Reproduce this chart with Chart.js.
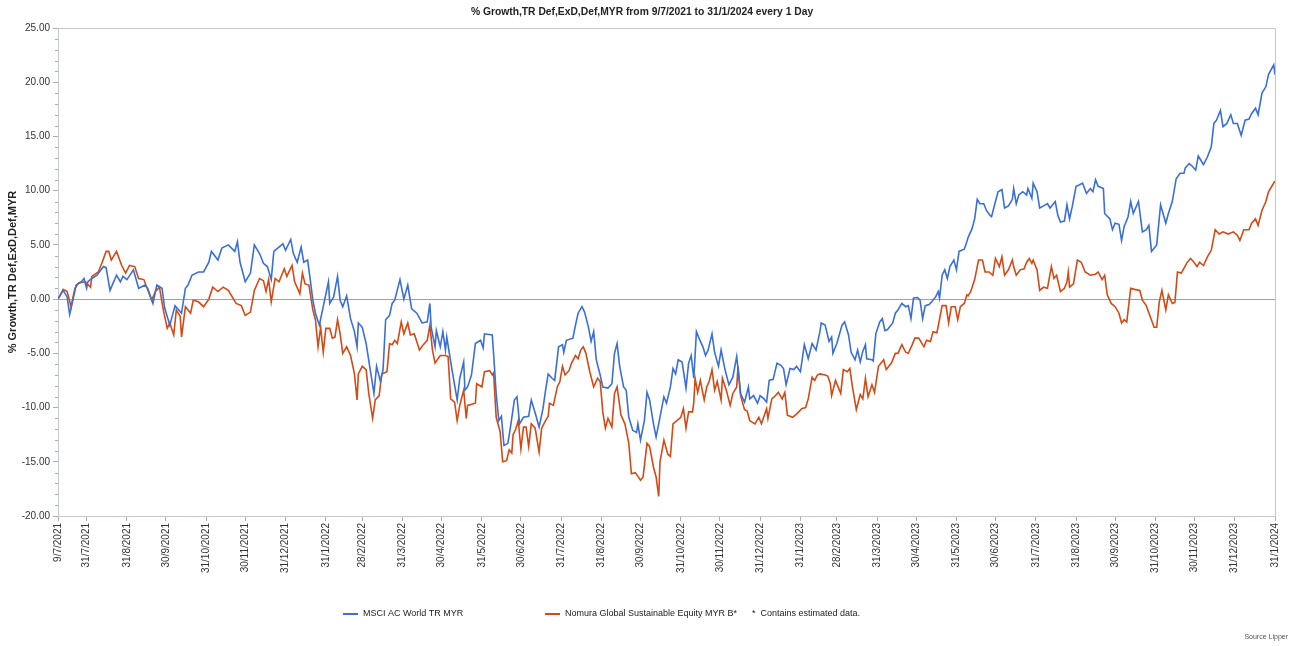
<!DOCTYPE html>
<html>
<head>
<meta charset="utf-8">
<title>% Growth chart</title>
<script src="https://cdn.jsdelivr.net/npm/chart.js@4.4.1/dist/chart.umd.min.js"></script>
<style>
  html, body { margin: 0; padding: 0; background: #fff; }
  #wrap { width: 1296px; height: 646px; }
</style>
</head>
<body>
<div id="wrap"><canvas id="myChart" width="1296" height="646"></canvas></div>
<script>
"use strict";

// days counted from 9/7/2021
const tickDays = [0, 22, 53, 83, 114, 144, 175, 206, 234, 265, 295, 326, 356, 387, 418, 448,
  479, 509, 540, 571, 599, 630, 660, 691, 721, 752, 783, 813, 844, 874, 905, 936];
const tickLabels = ['9/7/2021', '31/7/2021', '31/8/2021', '30/9/2021', '31/10/2021', '30/11/2021',
  '31/12/2021', '31/1/2022', '28/2/2022', '31/3/2022', '30/4/2022', '31/5/2022', '30/6/2022',
  '31/7/2022', '31/8/2022', '30/9/2022', '31/10/2022', '30/11/2022', '31/12/2022', '31/1/2023',
  '28/2/2023', '31/3/2023', '30/4/2023', '31/5/2023', '30/6/2023', '31/7/2023', '31/8/2023',
  '30/9/2023', '31/10/2023', '30/11/2023', '31/12/2023', '31/1/2024'];

const msciDays = [
  0, 4, 7, 9, 12, 14, 18, 20, 22, 23, 26, 30, 35, 37, 40, 45, 48, 50, 53, 58,
  62, 67, 69, 73, 76, 80, 82, 86, 90, 95, 98, 100, 103, 108, 112, 116, 118, 123, 126, 131,
  136, 138, 140, 144, 148, 151, 155, 158, 161, 164, 166, 169, 173, 175, 179, 181, 184, 187, 189, 192,
  194, 196, 198, 201, 204, 208, 209, 212, 215, 217, 219, 222, 225, 228, 230, 231, 234, 237, 240, 243,
  245, 248, 250, 252, 255, 257, 259, 263, 266, 269, 272, 276, 280, 284, 286, 287, 290, 291, 294, 296,
  298, 299, 303, 307, 309, 312, 313, 315, 318, 321, 325, 327, 328, 334, 335, 337, 339, 341, 343, 346,
  348, 351, 353, 355, 358, 362, 364, 367, 370, 373, 375, 377, 380, 382, 385, 388, 389, 391, 396, 398,
  400, 403, 405, 408, 410, 412, 414, 417, 419, 423, 426, 428, 430, 432, 435, 437, 439, 442, 445, 446,
  448, 451, 453, 455, 458, 460, 462, 466, 468, 471, 473, 475, 477, 480, 483, 485, 487, 489, 491, 493,
  496, 498, 500, 503, 505, 508, 510, 513, 516, 519, 522, 525, 528, 531, 532, 535, 538, 540, 543, 545,
  547, 550, 553, 556, 558, 560, 563, 566, 568, 571, 574, 577, 580, 583, 586, 587, 590, 593, 595, 596,
  599, 603, 605, 608, 610, 613, 615, 617, 619, 621, 622, 626, 627, 629, 632, 634, 636, 638, 642, 644,
  646, 649, 652, 654, 656, 658, 661, 663, 665, 667, 670, 672, 675, 677, 678, 680, 682, 684, 686, 689,
  691, 693, 695, 697, 699, 700, 703, 705, 707, 709, 712, 714, 717, 718, 721, 723, 726, 728, 731, 734,
  735, 737, 739, 742, 745, 746, 749, 750, 753, 755, 758, 761, 763, 767, 769, 771, 774, 776, 778, 780,
  783, 785, 788, 791, 794, 796, 798, 800, 804, 805, 809, 811, 813, 816, 818, 820, 823, 825, 827, 831,
  834, 837, 839, 841, 845, 848, 852, 854, 857, 860, 863, 866, 867, 870, 872, 875, 877, 881, 884, 887,
  889, 891, 894, 896, 899, 902, 904, 907, 910, 913, 916, 918, 921, 923, 926, 929, 931, 935, 936
];
const msciVals = [
  0.0, 0.8, 0.2, -1.4, 0.2, 1.3, 1.6, 1.9, 1.0, 1.6, 1.9, 2.2, 3.0, 2.9, 0.8, 2.2, 1.6, 2.1, 1.8, 2.7,
  1.0, 1.3, 1.0, -0.4, 1.3, 1.0, -0.8, -2.4, -0.6, -1.3, 1.0, 1.3, 2.2, 2.5, 2.5, 3.4, 4.4, 3.6, 4.7, 5.0,
  4.4, 5.3, 3.4, 1.6, 2.4, 5.0, 4.2, 3.3, 3.0, 1.8, 4.4, 4.7, 5.1, 4.5, 5.5, 4.2, 3.4, 4.8, 3.4, 3.6,
  1.8, -0.1, -1.3, -2.4, -0.7, 1.6, -0.4, 0.2, 2.1, -0.1, -0.7, 0.3, -1.8, -3.0, -4.4, -2.2, -2.6, -4.1, -6.4, -8.7,
  -6.2, -7.6, -6.5, -1.9, -1.5, -0.4, -0.1, 1.8, 0.0, 1.3, -0.9, -1.3, -2.2, -2.1, -0.4, -2.6, -4.4, -2.9, -4.4, -3.0,
  -4.7, -3.5, -6.5, -9.3, -7.3, -5.8, -8.4, -8.1, -7.0, -4.1, -3.8, -4.5, -3.2, -3.3, -5.0, -8.7, -11.2, -10.8, -13.5, -13.3,
  -11.8, -9.3, -9.0, -11.5, -10.9, -10.8, -9.3, -10.5, -11.8, -10.1, -8.4, -6.9, -7.3, -7.5, -4.4, -4.2, -4.9, -3.8, -3.6, -2.4,
  -1.3, -0.7, -1.2, -2.6, -3.9, -3.0, -5.6, -7.0, -8.1, -8.2, -7.8, -5.0, -4.1, -6.2, -8.1, -8.4, -10.9, -12.1, -12.3, -11.5,
  -13.0, -11.2, -8.6, -9.3, -11.5, -12.7, -11.5, -9.0, -9.6, -8.1, -6.4, -6.9, -5.6, -5.8, -8.2, -5.9, -5.2, -7.3, -3.0, -3.6,
  -4.4, -5.2, -4.7, -3.2, -4.9, -6.2, -4.7, -6.5, -7.9, -7.2, -5.3, -8.7, -9.5, -8.1, -9.2, -8.9, -9.6, -8.9, -9.2, -9.5,
  -7.5, -7.4, -5.9, -6.1, -6.4, -7.9, -6.4, -6.5, -6.2, -6.7, -4.2, -5.5, -4.1, -4.7, -3.0, -2.2, -2.4, -3.9, -3.5, -5.0,
  -4.1, -2.4, -2.1, -3.3, -4.9, -5.6, -4.7, -5.8, -4.8, -4.2, -5.5, -5.6, -5.7, -3.2, -2.1, -1.8, -2.9, -2.8, -2.2, -1.3,
  -1.0, -0.4, -0.7, -0.6, -1.8, 0.1, 0.15, -0.1, -1.8, -0.6, -0.5, -0.25, 0.2, 0.7, 0.1, 2.2, 2.7, 1.9, 3.0, 3.6,
  2.7, 4.4, 4.5, 4.6, 5.3, 5.7, 6.5, 7.4, 9.2, 8.8, 8.8, 8.2, 7.7, 7.6, 9.0, 9.9, 10.1, 8.4, 8.6, 9.2,
  10.2, 8.8, 9.6, 9.9, 9.6, 10.2, 9.3, 10.7, 9.9, 8.4, 8.6, 8.8, 8.4, 9.0, 7.7, 7.1, 7.2, 8.7, 7.4, 8.5,
  10.4, 10.5, 10.7, 9.75, 10.2, 9.9, 11.0, 10.4, 10.2, 7.9, 7.4, 6.4, 7.0, 6.9, 5.4, 6.7, 7.6, 9.0, 7.9, 9.0,
  6.2, 6.4, 6.8, 4.4, 5.0, 8.7, 7.0, 7.9, 9.0, 11.1, 11.6, 11.6, 12.1, 12.5, 12.3, 11.9, 13.2, 12.4, 13.1, 14.05,
  16.2, 16.5, 17.4, 15.9, 16.2, 17.0, 16.2, 16.2, 15.1, 16.5, 16.6, 17.1, 17.6, 17.0, 19.0, 19.6, 20.7, 21.6, 20.7
];

const nomuraDays = [
  0, 4, 7, 10, 13, 16, 21, 25, 26, 31, 34, 37, 39, 41, 45, 49, 52, 55, 59, 62,
  66, 72, 75, 78, 81, 84, 86, 89, 91, 94, 95, 98, 102, 104, 108, 112, 116, 119, 123, 127,
  131, 137, 141, 144, 148, 151, 155, 158, 160, 162, 164, 167, 170, 174, 176, 180, 182, 186, 188, 190,
  193, 196, 198, 200, 202, 204, 206, 209, 211, 213, 215, 217, 219, 222, 225, 228, 230, 231, 234, 237,
  239, 242, 244, 247, 249, 253, 255, 257, 259, 261, 264, 266, 269, 271, 274, 278, 281, 284, 286, 288,
  290, 294, 298, 300, 302, 305, 307, 309, 312, 314, 315, 321, 322, 326, 328, 332, 334, 335, 337, 340,
  342, 345, 347, 349, 350, 352, 354, 356, 358, 360, 362, 364, 367, 370, 372, 375, 377, 378, 381, 384,
  386, 388, 390, 393, 395, 398, 400, 402, 404, 406, 409, 412, 415, 417, 419, 421, 423, 426, 428, 430,
  433, 436, 439, 441, 444, 448, 450, 453, 455, 458, 460, 462, 463, 466, 469, 471, 473, 476, 479, 481,
  483, 485, 488, 489, 490, 492, 494, 497, 499, 501, 503, 505, 507, 510, 511, 514, 517, 519, 522, 523,
  525, 528, 530, 532, 536, 539, 541, 545, 546, 549, 551, 554, 557, 559, 561, 565, 568, 572, 575, 577,
  580, 582, 584, 586, 590, 592, 594, 595, 598, 602, 604, 607, 609, 611, 614, 617, 619, 621, 623, 626,
  628, 631, 635, 637, 641, 644, 646, 649, 652, 654, 657, 659, 662, 666, 668, 671, 673, 676, 680, 683,
  685, 687, 690, 692, 694, 697, 699, 700, 702, 705, 708, 711, 713, 716, 719, 721, 724, 726, 728, 731,
  734, 735, 737, 740, 743, 745, 747, 749, 750, 753, 755, 758, 761, 764, 766, 768, 771, 774, 776, 777,
  778, 781, 784, 787, 790, 794, 798, 800, 803, 805, 807, 810, 813, 816, 818, 820, 822, 825, 828, 832,
  834, 837, 840, 843, 845, 847, 849, 852, 854, 857, 859, 861, 864, 868, 871, 873, 876, 878, 881, 884,
  887, 890, 893, 896, 900, 904, 907, 909, 912, 916, 918, 921, 923, 926, 929, 931, 934, 936
];
const nomuraVals = [
  0.0, 0.9, 0.7, -0.7, 1.0, 1.5, 1.6, 1.1, 2.1, 2.5, 3.4, 4.4, 4.4, 3.6, 4.4, 3.1, 2.4, 3.1, 3.0, 1.9,
  1.8, -0.1, 0.7, 1.1, -1.0, -2.7, -2.2, -3.3, -1.0, -1.6, -3.5, -0.7, -1.3, -0.1, -0.25, -0.7, 0.0, 1.1, 0.7, 1.1,
  0.8, -0.4, -0.6, -1.5, -1.2, 0.8, 1.9, 1.7, 0.7, 1.8, -0.25, 1.9, 1.6, 2.8, 2.1, 3.1, 1.6, 0.5, 2.4, 1.4,
  1.3, -1.0, -1.9, -4.4, -2.6, -4.9, -2.7, -2.7, -3.6, -3.5, -1.9, -3.2, -5.0, -4.4, -5.2, -6.9, -9.3, -6.9, -6.2, -6.5,
  -8.7, -11.0, -9.3, -8.9, -6.9, -6.7, -4.1, -4.2, -3.8, -4.1, -2.1, -3.2, -2.2, -3.3, -3.2, -4.7, -4.2, -3.8, -2.4, -4.7,
  -5.9, -5.2, -5.2, -5.3, -9.2, -9.5, -11.2, -9.8, -8.4, -11.0, -9.8, -9.6, -7.8, -8.1, -6.7, -6.6, -7.0, -6.8, -10.9, -12.2,
  -15.0, -14.9, -13.9, -14.2, -12.5, -12.0, -11.2, -13.8, -11.8, -11.8, -13.6, -11.5, -11.9, -14.1, -11.9, -11.2, -10.8, -9.6, -9.8, -8.1,
  -7.6, -6.2, -7.0, -6.6, -5.9, -5.2, -5.5, -4.7, -4.4, -5.0, -6.7, -8.1, -7.3, -7.6, -10.4, -11.9, -11.0, -11.8, -8.7, -8.1,
  -10.7, -11.5, -13.3, -16.1, -16.0, -16.7, -16.4, -13.3, -13.6, -15.5, -16.4, -18.2, -15.0, -13.0, -14.3, -14.5, -11.5, -11.2, -10.9, -10.1,
  -11.9, -10.4, -10.4, -9.5, -7.3, -8.6, -7.5, -9.3, -8.1, -7.5, -6.5, -8.4, -7.6, -9.3, -7.3, -8.4, -9.8, -8.7, -8.1, -6.2,
  -8.9, -10.2, -10.3, -11.2, -11.5, -10.9, -11.5, -10.1, -11.0, -9.2, -9.0, -8.6, -9.2, -8.6, -10.7, -10.9, -10.6, -10.1, -10.0, -9.2,
  -7.2, -7.5, -7.0, -6.9, -7.0, -7.1, -7.8, -8.9, -7.5, -8.7, -6.5, -6.7, -6.4, -8.1, -10.2, -8.8, -9.2, -7.3, -9.0, -7.9,
  -8.6, -6.2, -5.6, -6.5, -5.9, -5.0, -5.0, -4.2, -4.9, -5.0, -4.2, -3.6, -3.6, -4.4, -3.8, -3.9, -3.0, -3.1, -0.6, -0.6,
  -2.2, -0.7, -0.7, -1.9, -0.7, -0.4, 0.4, 0.3, 0.7, 1.8, 3.6, 3.6, 2.5, 2.5, 2.2, 3.75, 3.0, 3.9, 2.2, 2.7,
  3.6, 3.0, 2.2, 2.7, 2.8, 3.4, 3.75, 3.3, 3.6, 2.7, 0.8, 1.1, 1.0, 3.0, 1.9, 2.2, 0.7, 1.0, 1.6, 2.5,
  1.1, 1.4, 3.6, 3.4, 2.5, 2.2, 2.3, 2.5, 1.8, 2.2, 0.4, -0.4, -0.7, -1.3, -2.2, -1.9, -2.1, 1.0, 0.9, 0.8,
  -0.1, -0.6, -1.6, -2.6, -2.6, -0.25, 0.8, -1.0, 0.4, -0.4, -0.3, 2.5, 2.4, 3.3, 3.75, 3.5, 3.0, 3.4, 3.1, 3.9,
  4.5, 6.4, 6.0, 6.2, 6.0, 6.2, 5.9, 5.4, 6.4, 6.4, 7.0, 7.4, 6.8, 8.2, 9.0, 9.9, 10.5, 10.9
];

const seriesNames = ['MSCI AC World TR MYR', 'Nomura Global Sustainable Equity MYR B*'];
const seriesColors = ['#3a6fd6', '#d24a16'];
const chartTitle = '% Growth,TR Def,ExD,Def,MYR from 9/7/2021 to 31/1/2024 every 1 Day';
const yTitle = '% Growth,TR Def,ExD,Def,MYR';

const FONT = '"Liberation Sans", Arial, sans-serif';
Chart.defaults.font.family = FONT;
Chart.defaults.font.size = 10;
Chart.defaults.color = '#333';

const toPoints = (days, vals) => days.map((d, i) => ({ x: d, y: vals[i] }));

// title, frame, minor ticks, legend and source note
const extras = {
  id: 'extras',
  afterDraw(chart) {
    const { ctx, chartArea: a, scales } = chart;
    ctx.save();
    // frame top/right
    ctx.strokeStyle = '#c4c8d0';
    ctx.lineWidth = 1;
    ctx.beginPath();
    ctx.moveTo(a.left, a.top + 0.5);
    ctx.lineTo(a.right + 0.5, a.top + 0.5);
    ctx.lineTo(a.right + 0.5, a.bottom);
    ctx.stroke();
    // minor y ticks
    ctx.strokeStyle = '#a8adb8';
    ctx.beginPath();
    for (let v = -20; v <= 25; v++) {
      if (v % 5 === 0) continue;
      const y = Math.round(scales.y.getPixelForValue(v)) + 0.5;
      ctx.moveTo(a.left - 3, y);
      ctx.lineTo(a.left, y);
    }
    ctx.stroke();
    // title
    ctx.fillStyle = '#222';
    ctx.font = 'bold 10.3px ' + FONT;
    ctx.textAlign = 'center';
    ctx.textBaseline = 'middle';
    ctx.fillText(chartTitle, 642, 12);
    // legend
    ctx.font = '9px ' + FONT;
    ctx.textAlign = 'left';
    ctx.lineWidth = 2;
    const items = [[343, seriesNames[0], seriesColors[0]], [545, seriesNames[1], seriesColors[1]]];
    items.forEach(([x, name, col]) => {
      ctx.strokeStyle = col;
      ctx.beginPath();
      ctx.moveTo(x, 614);
      ctx.lineTo(x + 15, 614);
      ctx.stroke();
      ctx.fillText(name, x + 20, 614);
    });
    ctx.fillText('*  Contains estimated data.', 752, 614);
    ctx.font = '7px ' + FONT;
    ctx.fillStyle = '#555';
    ctx.textAlign = 'right';
    ctx.fillText('Source Lipper', 1288, 637);
    ctx.restore();
  }
};

const ctx = document.getElementById('myChart').getContext('2d');
const myChart = new Chart(ctx, {
  type: 'line',
  data: {
    datasets: [{
      label: seriesNames[0],
      data: toPoints(msciDays, msciVals),
      borderColor: seriesColors[0],
      borderWidth: 1.6,
      pointRadius: 0,
      tension: 0
    }, {
      label: seriesNames[1],
      data: toPoints(nomuraDays, nomuraVals),
      borderColor: seriesColors[1],
      borderWidth: 1.6,
      pointRadius: 0,
      tension: 0
    }]
  },
  options: {
    responsive: false,
    animation: false,
    layout: { padding: { top: 28, right: 21, bottom: 50, left: 0 } },
    plugins: {
      legend: { display: false },
      title: { display: false },
      tooltip: { enabled: false }
    },
    scales: {
      x: {
        type: 'linear',
        min: 0,
        max: 936,
        afterBuildTicks: (axis) => { axis.ticks = tickDays.map(v => ({ value: v })); },
        afterFit: (s) => { s.height = 80; },
        ticks: {
          autoSkip: false,
          minRotation: 90,
          maxRotation: 90,
          padding: 2,
          color: '#333',
          callback: (v, i) => tickLabels[i]
        },
        grid: { drawOnChartArea: false, tickLength: 5, color: '#a8adb8' },
        border: { color: '#c4c8d0' }
      },
      y: {
        min: -20,
        max: 25,
        afterFit: (s) => { s.width = 58; },
        ticks: {
          stepSize: 5,
          padding: 3,
          color: '#333',
          callback: (v) => v.toFixed(2)
        },
        grid: {
          tickLength: 5,
          color: (c) => (c.tick && c.tick.value === 0) ? '#a0a0a0' : 'rgba(0,0,0,0)',
          tickColor: '#a8adb8'
        },
        border: { color: '#c4c8d0' },
        title: {
          display: true,
          text: yTitle,
          color: '#222',
          font: { weight: 'bold', size: 11 },
          padding: { top: 6, bottom: 0 }
        }
      }
    }
  },
  plugins: [extras]
});
</script>
</body>
</html>
